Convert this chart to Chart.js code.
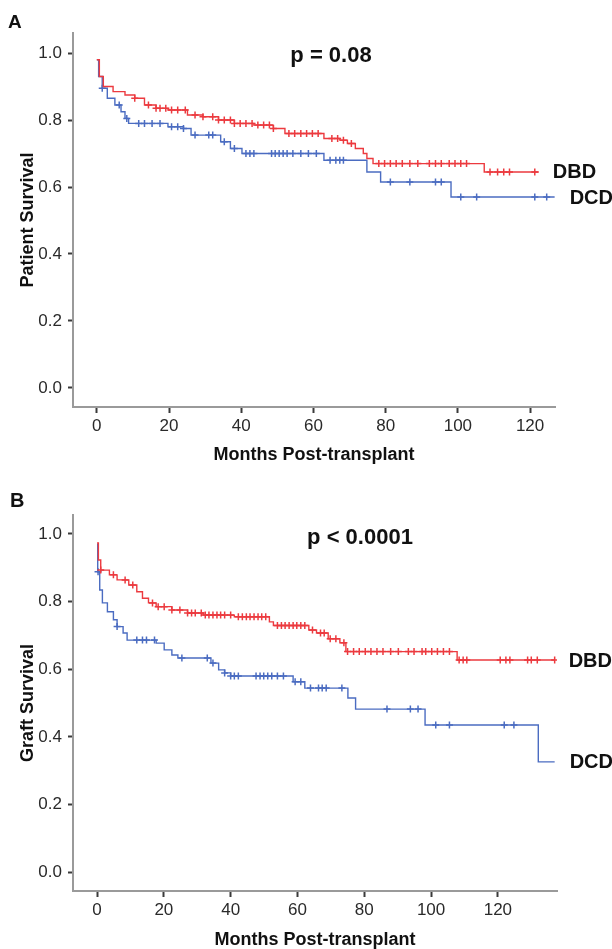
<!DOCTYPE html>
<html>
<head>
<meta charset="utf-8">
<script src="https://cdn.jsdelivr.net/npm/chart.js@4"></script>
<style>
  html, body { margin: 0; padding: 0; background: #fff; overflow: hidden; }
  body { width: 612px; height: 949px; position: relative; font-family: "Liberation Sans", Arial, sans-serif; }
  .panel { position: absolute; left: 0; }
  .tag { position: absolute; font-weight: bold; color: #111; line-height: 1; }
  .pval { position: absolute; font-weight: bold; color: #111; line-height: 1; font-size: 22px; transform: translate(-50%, -50%); white-space: nowrap; }
</style>
</head>
<body>
<div class="panel" style="top:0"><canvas id="chartA" width="612" height="475"></canvas></div>
<div class="panel" style="top:475px"><canvas id="chartB" width="612" height="485"></canvas></div>
<div class="tag" style="left:8px;top:12px;font-size:19px">A</div>
<div class="tag" style="left:10px;top:490px;font-size:20px">B</div>
<div class="pval" style="left:331px;top:55px">p = 0.08</div>
<div class="pval" style="left:360px;top:537px">p &lt; 0.0001</div>
<script>
// tick labels
const monthTicks = [0, 20, 40, 60, 80, 100, 120];
const survivalTicks = [0, 0.2, 0.4, 0.6, 0.8, 1.0];

// Panel A - patient survival, [month, survival] after each drop
const dbdPatient = [[0,0.98],[0.7,0.93],[1.8,0.90],[4.5,0.885],[7.8,0.875],[10.5,0.865],[13.2,0.845],[16.4,0.835],[19.7,0.83],[25.1,0.815],[29.4,0.81],[33.7,0.80],[38.1,0.79],[43.5,0.785],[48.9,0.775],[52.1,0.76],[62.9,0.745],[67.3,0.74],[69.4,0.73],[71.6,0.715],[73.8,0.70],[74.8,0.685],[76.5,0.67],[107.3,0.645],[122.4,0.645]];
const dcdPatient = [[0,0.98],[0.5,0.93],[1.5,0.895],[2.9,0.865],[5.0,0.845],[6.7,0.825],[7.8,0.805],[8.8,0.79],[19.7,0.78],[24,0.775],[26.1,0.755],[34.3,0.735],[37,0.715],[40.2,0.70],[62.9,0.68],[74.8,0.645],[78.6,0.615],[98.1,0.57],[126.8,0.57]];
// censored cases (months)
const dbdPatientCens = [10.5,14.3,16.4,17.5,19.1,20.7,22.4,24.5,27.2,29.4,32.1,33.7,35.3,37.0,38.1,39.7,41.3,43.0,44.6,46.2,47.8,48.9,53.2,54.8,56.5,58.1,59.7,61.3,65.1,66.7,68.3,70.5,78.1,79.7,81.3,82.9,84.6,86.7,88.9,92.1,93.8,95.4,97.6,99.2,100.8,102.4,108.9,111,112.7,114.3,121.3];
const dcdPatientCens = [1.5,6.2,8.3,11.6,13.2,15.3,17.5,20.7,22.4,24,27.2,31.0,32.1,35.3,38.1,41.3,42.4,43.5,48.4,49.4,50.5,51.6,52.7,54.3,56.5,58.6,60.8,64.6,66.2,67.3,68.3,81.3,86.7,93.8,95.4,100.8,105.2,121.3,124.6];

// Panel B - graft survival
const dbdGraft = [[0,0.973],[0.4,0.923],[1.1,0.893],[3.7,0.879],[6,0.864],[9.5,0.849],[11.9,0.829],[13.6,0.81],[15.4,0.796],[17.7,0.785],[22.4,0.775],[27.1,0.766],[31.8,0.76],[41.1,0.755],[51.6,0.74],[52.8,0.729],[63.4,0.716],[65.7,0.707],[69.2,0.69],[72.7,0.678],[74.5,0.652],[107.8,0.627],[137,0.627]];
const dcdGraft = [[0,0.97],[0.2,0.888],[0.8,0.834],[1.6,0.796],[3.1,0.77],[4.9,0.746],[6.0,0.726],[7.8,0.707],[9.0,0.686],[17.7,0.677],[20.1,0.657],[22.4,0.642],[24.2,0.633],[34.1,0.618],[36.4,0.598],[38.2,0.589],[40,0.58],[58.7,0.563],[62.2,0.544],[75.1,0.515],[77.4,0.482],[98.2,0.435],[132.1,0.326],[137,0.326]];
const dbdGraftCens = [1.1,4.9,8.4,10.7,16.6,18.3,20.1,22.4,24.8,27.1,28.3,29.4,31.2,32.4,33.5,34.7,35.9,37.0,38.2,40.0,42.3,43.5,44.7,45.8,47.0,48.2,49.3,50.5,54.0,55.2,56.3,57.5,58.7,59.8,61.0,62.2,64.5,66.9,68.0,69.8,71.5,73.9,75.0,76.8,78.5,80.3,82.0,83.8,85.6,87.9,90.2,93.2,94.9,97.3,98.4,100.2,101.9,103.7,105.5,108.4,109.6,110.7,120.7,122.4,123.6,128.9,130.0,131.8,137];
const dcdGraftCens = [0.3,6.0,11.9,13.6,14.8,17.2,25.4,33.0,34.7,38.2,40.0,41.1,42.3,47.6,48.8,49.9,51.1,52.3,54.0,55.8,59.3,61.0,63.9,66.3,67.4,68.6,73.3,86.8,93.8,96.1,101.4,105.5,121.9,124.8];

const RED = '#ec3a3f';
const BLUE = '#4b6cc1';
const FONT = '"Liberation Sans", Arial, sans-serif';

// survival level at time t on a KM step curve
function survAt(steps, t) {
    let s = steps[0][1];
    for (const [m, v] of steps) if (m <= t) s = v;
    return s;
}

const endLabels = {
    id: 'endLabels',
    afterDatasetsDraw(chart) {
        const ctx = chart.ctx;
        ctx.save();
        ctx.font = 'bold 20px ' + FONT;
        ctx.fillStyle = '#111';
        ctx.textAlign = 'left';
        ctx.textBaseline = 'middle';
        chart.data.datasets.forEach((ds, i) => {
            if (!ds.endLabel) return;
            const pts = chart.getDatasetMeta(i).data;
            const last = pts[pts.length - 1];
            ctx.fillText(ds.endLabel, last.x + ds.labelGap, last.y + 1);
        });
        ctx.restore();
    }
};

function makePanel(id, cfg) {
    const curve = (steps, color, name, gap) => ({
        label: name, data: steps.map(([x, y]) => ({x, y})),
        borderColor: color, borderWidth: 1.4, pointRadius: 0, stepped: true, fill: false,
        endLabel: name, labelGap: gap
    });
    const cens = (times, steps, color) => ({
        label: 'censored', data: times.map(t => ({x: t, y: survAt(steps, t)})),
        showLine: false, pointStyle: 'cross', pointRadius: 3.5, borderColor: color, borderWidth: 1.5
    });
    new Chart(document.getElementById(id), {
        type: 'line',
        data: {
            datasets: [
                curve(cfg.dbd, RED, 'DBD', 14),
                cens(cfg.dbdCens, cfg.dbd, RED),
                curve(cfg.dcd, BLUE, 'DCD', 15),
                cens(cfg.dcdCens, cfg.dcd, BLUE)
            ]
        },
        options: {
            responsive: false,
            animation: false,
            layout: { padding: { top: cfg.top, right: cfg.right, left: 0, bottom: 0 } },
            plugins: { legend: { display: false }, tooltip: { enabled: false } },
            scales: {
                x: {
                    type: 'linear', min: cfg.xMin, max: cfg.xMax,
                    afterFit: s => { s.height = cfg.xHeight; },
                    afterBuildTicks: s => { s.ticks = monthTicks.map(v => ({value: v})); },
                    grid: { drawOnChartArea: false, tickLength: 6, tickWidth: 2, tickColor: '#3a3a3a' },
                    border: { color: '#9a9a9a', width: 2 },
                    ticks: { color: '#2a2a2a', font: { family: FONT, size: 17 }, padding: 3, maxRotation: 0 },
                    title: { display: true, text: 'Months Post-transplant', color: '#111',
                             font: { family: FONT, size: 18, weight: 'bold' }, padding: { top: 0, bottom: 9 } }
                },
                y: {
                    min: cfg.yMin, max: cfg.yMax,
                    afterFit: s => { s.width = 73; },
                    afterBuildTicks: s => { s.ticks = survivalTicks.map(v => ({value: v})); },
                    grid: { drawOnChartArea: false, tickLength: 5, tickWidth: 2, tickColor: '#3a3a3a' },
                    border: { color: '#9a9a9a', width: 2 },
                    ticks: { color: '#2a2a2a', font: { family: FONT, size: 17 }, padding: 6,
                             callback: v => v.toFixed(1) },
                    title: { display: true, text: cfg.yTitle, color: '#111',
                             font: { family: FONT, size: 18, weight: 'bold' }, padding: { top: 17, bottom: 0 } }
                }
            }
        },
        plugins: [endLabels]
    });
}

makePanel('chartA', {
    dbd: dbdPatient, dcd: dcdPatient, dbdCens: dbdPatientCens, dcdCens: dcdPatientCens,
    yTitle: 'Patient Survival', top: 33, right: 57, xHeight: 68,
    xMin: -6.6, xMax: 126.9, yMin: -0.057, yMax: 1.06
});
makePanel('chartB', {
    dbd: dbdGraft, dcd: dcdGraft, dbdCens: dbdGraftCens, dcdCens: dcdGraftCens,
    yTitle: 'Graft Survival', top: 40, right: 55, xHeight: 69,
    xMin: -7.2, xMax: 137.7, yMin: -0.056, yMax: 1.056
});
</script>
</body>
</html>
